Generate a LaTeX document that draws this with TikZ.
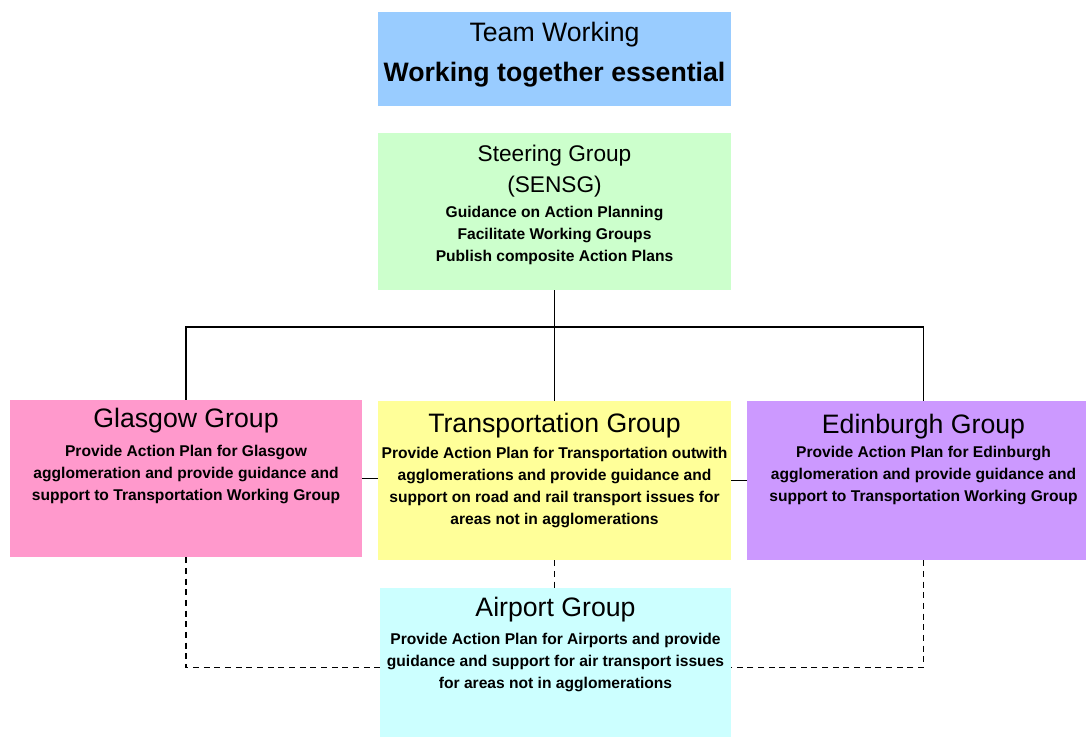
\documentclass[tikz,border=0pt]{standalone}
\usepackage{fontspec}
\setmainfont{Liberation Sans}
\usetikzlibrary{positioning}

\definecolor{teamblue}{HTML}{99CCFF}
\definecolor{steergreen}{HTML}{CCFFCC}
\definecolor{glaspink}{HTML}{FF99CC}
\definecolor{transyellow}{HTML}{FFFF99}
\definecolor{edinlilac}{HTML}{CC99FF}
\definecolor{aircyan}{HTML}{CCFFFF}

\tikzset{
  grpbox/.style={draw=none, inner sep=0pt, minimum width=264.75pt, minimum height=119.25pt},
  grptitle/.style={anchor=base, inner sep=0pt, font=\fontsize{20}{24}\selectfont},
  grptext/.style={anchor=north, inner sep=0pt, align=center, font=\fontsize{11.7}{16.5}\selectfont\bfseries},
  link/.style={line width=0.9pt},
  dashlink/.style={line width=0.9pt, dash pattern=on 4.5pt off 3.5pt}
}

\begin{document}
\begin{tikzpicture}[x=0.75pt, y=-0.75pt]
  \clip (0,0) rectangle (1086,737);

  % Draw the boxes
  \node[grpbox, fill=teamblue, minimum height=70.5pt] (team) at (554.5,59) {};
  \node[grpbox, fill=steergreen, minimum height=117.75pt] (steer) at (554.5,211.5) {};
  \node[grpbox, fill=glaspink, minimum width=264pt, minimum height=117.75pt] (glas) at (186,478.5) {};
  \node[grpbox, fill=transyellow] (trans) at (554.5,480.5) {};
  \node[grpbox, fill=edinlilac] (edin) at (923.5,480.5) {};
  \node[grpbox, fill=aircyan, minimum width=263.25pt] (air) at (555.5,667.5) {};

  % Draw the texts
  \node[grptitle] (teamtitle) at (554.5,42) {Team Working};
  \node[grptitle, font=\fontsize{20}{24}\selectfont\bfseries] (teamsub) at (554.5,82) {Working together essential};

  \node[grptitle, font=\fontsize{17}{20}\selectfont] (steertitle) at (554.5,162) {Steering Group};
  \node[grptitle, font=\fontsize{17}{20}\selectfont] (steerabbr) at (554.5,193) {(SENSG)};
  \node[grptext] (steertext) at (554.5,206) {Guidance on Action Planning\\Facilitate Working Groups\\Publish composite Action Plans};

  \node[grptitle] (glastitle) at (186,428) {Glasgow Group};
  \node[grptext] (glastext) at (186,445) {Provide Action Plan for Glasgow\\agglomeration and provide guidance and\\support to Transportation Working Group};

  \node[grptitle] (transtitle) at (554.5,433) {Transportation Group};
  \node[grptext] (transtext) at (554.5,447) {Provide Action Plan for Transportation outwith\\agglomerations and provide guidance and\\support on road and rail transport issues for\\areas not in agglomerations};

  \node[grptitle] (edintitle) at (923.5,434) {Edinburgh Group};
  \node[grptext] (edintext) at (923.5,446) {Provide Action Plan for Edinburgh\\agglomeration and provide guidance and\\support to Transportation Working Group};

  \node[grptitle] (airtitle) at (555.5,617) {Airport Group};
  \node[grptext] (airtext) at (555.5,633) {Provide Action Plan for Airports and provide\\guidance and support for air transport issues\\for areas not in agglomerations};

  % Draw the solid links
  \coordinate (bus) at (554.5,327);
  \draw[link] (steer.south) -- (trans.north);
  \draw[link] (glas.north) |- (bus) -| (edin.north);
  \draw[link] (glas.east) -- (glas.east -| trans.west);
  \draw[link] (trans.east) -- (edin.west);

  % Draw the dashed links
  \draw[dashlink] (trans.south) -- (trans.south |- air.north);
  \draw[dashlink] (glas.south) |- (air.west);
  \draw[dashlink] (edin.south) |- (air.east);
\end{tikzpicture}
\end{document}
